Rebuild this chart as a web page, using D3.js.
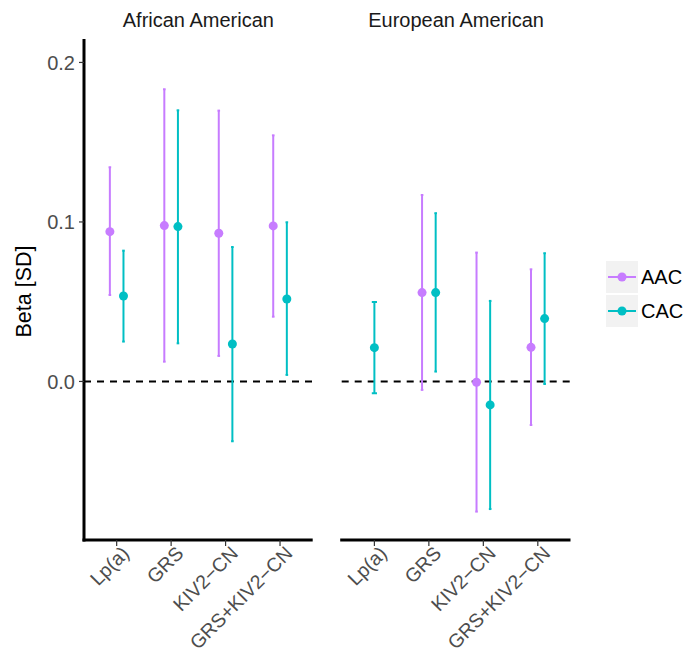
<!DOCTYPE html>
<html><head><meta charset="utf-8">
<script src="https://cdn.jsdelivr.net/npm/d3@7"></script>
<style>body{margin:0;background:#fff}svg{display:block}text{font-family:"Liberation Sans",Arial,sans-serif}</style>
</head><body>
<svg id="c" width="684" height="654"></svg>
<script>
const categories = ["Lp(a)", "GRS", "KIV2\u2212CN", "GRS+KIV2\u2212CN"];
const panels = ["African American", "European American"];
const seriesNames = ["AAC", "CAC"];
const colors = ["#C77CFF", "#00BFC4"];
const yTicks = [0.0, 0.1, 0.2];

// African American
const aaAACest = [0.0939, 0.0977, 0.0929, 0.0975];
const aaAAClo  = [0.0542, 0.0124, 0.0160, 0.0406];
const aaAAChi  = [0.1343, 0.1832, 0.1698, 0.1543];
const aaCACest = [0.0536, 0.0971, 0.0235, 0.0517];
const aaCAClo  = [0.0250, 0.0239, -0.0375, 0.0041];
const aaCAChi  = [0.0820, 0.1700, 0.0843, 0.0998];
// European American
const eaAACest = [null, 0.0557, -0.0005, 0.0214];
const eaAAClo  = [null, -0.0053, -0.0816, -0.0273];
const eaAAChi  = [null, 0.1169, 0.0808, 0.0703];
const eaCACest = [0.0212, 0.0557, -0.0147, 0.0394];
const eaCAClo  = [-0.0074, 0.0062, -0.0800, -0.0016];
const eaCAChi  = [0.0498, 0.1055, 0.0505, 0.0804];

(function () {
const panelData = [
  [[aaAACest, aaAAClo, aaAAChi], [aaCACest, aaCAClo, aaCAChi]],
  [[eaAACest, eaAAClo, eaAAChi], [eaCACest, eaCAClo, eaCAChi]]
];

const svg = d3.select("#c");
const yTop = 39, yBot = 540;
const y = d3.scaleLinear().domain([-0.0994, 0.2147]).range([yBot, yTop]);
const panelX = [[84, 312.7], [341.7, 570.5]];
const FONT = 20;

const yAxis = svg.append("g").attr("transform", `translate(${panelX[0][0]},0)`);
yAxis.append("line").attr("x1", 0).attr("x2", 0).attr("y1", yTop).attr("y2", yBot + 1.5)
  .attr("stroke", "#000").attr("stroke-width", 3);
yTicks.forEach(t => {
  yAxis.append("line").attr("x1", -5).attr("x2", 0).attr("y1", y(t)).attr("y2", y(t))
    .attr("stroke", "#333").attr("stroke-width", 1.2);
  yAxis.append("text").attr("x", -9).attr("y", y(t)).attr("dy", "0.36em")
    .attr("text-anchor", "end").attr("fill", "#4D4D4D").attr("font-size", 20)
    .text(d3.format(".1f")(t));
});
svg.append("text").attr("transform", `translate(31,${(yTop + yBot) / 2 + 2}) rotate(-90)`)
  .attr("text-anchor", "middle").attr("font-size", 21.5).attr("fill", "#000").text("Beta [SD]");

panels.forEach((pname, pi) => {
  const [x0, x1] = panelX[pi];
  const x = d3.scalePoint().domain(categories).range([x0, x1]).padding(0.6);
  const step = x.step();
  const g = svg.append("g");
  g.append("text").attr("x", (x0 + x1) / 2).attr("y", 27).attr("text-anchor", "middle")
    .attr("font-size", FONT).attr("fill", "#1A1A1A").text(pname);
  g.append("line").attr("x1", x0).attr("x2", x1).attr("y1", y(0)).attr("y2", y(0))
    .attr("stroke", "#000").attr("stroke-width", 2).attr("stroke-dasharray", "7,6");
  g.append("line").attr("x1", x0 - 1.5).attr("x2", x1).attr("y1", yBot).attr("y2", yBot)
    .attr("stroke", "#000").attr("stroke-width", 3);
  categories.forEach(c => {
    g.append("line").attr("x1", x(c)).attr("x2", x(c)).attr("y1", yBot).attr("y2", yBot + 6)
      .attr("stroke", "#333").attr("stroke-width", 1.2);
    g.append("text").attr("transform", `translate(${x(c) + 4},${yBot + 5}) rotate(-45)`)
      .attr("text-anchor", "end").attr("dy", "0.7em").attr("font-size", 19.5).attr("fill", "#4D4D4D").text(c);
  });
  categories.forEach((c, ci) => {
    const present = panelData[pi].map(s => s[0][ci] != null);
    const nPresent = present.filter(Boolean).length;
    let k = 0;
    panelData[pi].forEach((s, si) => {
      if (!present[si]) return;
      const off = nPresent === 1 ? 0 : (k === 0 ? -1 : 1) * step * 0.125;
      k++;
      const cx = x(c) + off;
      const capW = nPresent === 1 ? 2.6 : 1.3;
      const col = colors[si];
      g.append("line").attr("x1", cx).attr("x2", cx).attr("y1", y(s[1][ci])).attr("y2", y(s[2][ci]))
        .attr("stroke", col).attr("stroke-width", 2);
      [s[1][ci], s[2][ci]].forEach(v => {
        g.append("line").attr("x1", cx - capW).attr("x2", cx + capW).attr("y1", y(v)).attr("y2", y(v))
          .attr("stroke", col).attr("stroke-width", 2);
      });
      g.append("circle").attr("cx", cx).attr("cy", y(s[0][ci])).attr("r", 4.5).attr("fill", col);
    });
  });
});

const lg = svg.append("g").attr("transform", "translate(606,261)");
seriesNames.forEach((n, i) => {
  const gy = i * 34;
  lg.append("rect").attr("x", 0).attr("y", gy).attr("width", 32).attr("height", 32).attr("fill", "#F2F2F2");
  lg.append("line").attr("x1", 2).attr("x2", 30).attr("y1", gy + 16).attr("y2", gy + 16)
    .attr("stroke", colors[i]).attr("stroke-width", 2);
  lg.append("circle").attr("cx", 16).attr("cy", gy + 16).attr("r", 4.5).attr("fill", colors[i]);
  lg.append("text").attr("x", 35).attr("y", gy + 16).attr("dy", "0.36em")
    .attr("font-size", FONT).attr("fill", "#000").text(n);
});
})();
</script>
</body></html>
